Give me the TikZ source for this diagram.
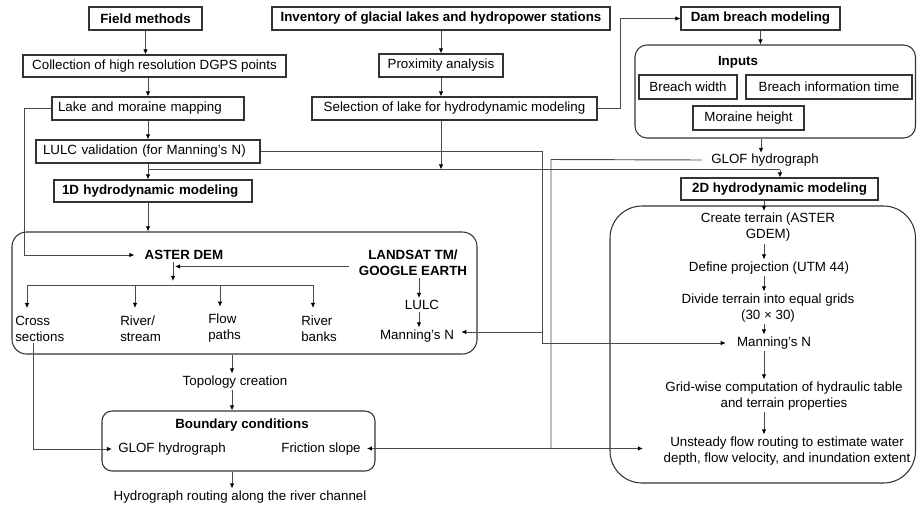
\documentclass[tikz,border=0pt]{standalone}
\usepackage{fontspec}
\setmainfont{Liberation Sans}
\usetikzlibrary{arrows.meta}
\definecolor{boxc}{HTML}{333333}
\definecolor{linec}{HTML}{4A4A4A}
\begin{document}
\begin{tikzpicture}[x=0.75pt,y=-0.75pt,
  every node/.style={font=\fontsize{10}{12}\selectfont},
  box/.style={draw=boxc, line width=0.8pt, inner sep=0pt, minimum height=17.25pt, align=center},
  cont/.style={draw=boxc, line width=0.8pt, inner sep=0pt},
  txt/.style={inner sep=1.5pt, align=center},
  bt/.style={font=\fontsize{10}{12}\selectfont\bfseries},
  ln/.style={draw=linec, line width=0.7pt},
  arr/.style={draw=linec, line width=0.7pt, -{Latex[length=3.8pt,width=3.4pt,color=black]}}]
\useasboundingbox (0,0) rectangle (917,508);

% top part
\node[box, bt, minimum width=84.75pt] (field) at (145.5,18.5) {Field methods};
\node[box, bt, minimum width=253.5pt] (inv) at (441,18.5) {Inventory of glacial lakes and hydropower stations};
\node[box, bt, minimum width=119.25pt] (dam) at (760.5,18.5) {Dam breach modeling};
\node[box, minimum width=197.25pt, minimum height=16.5pt] (dgps) at (154.5,66) {Collection of high resolution DGPS points};
\node[box, minimum width=93pt] (prox) at (441,65.5) {Proximity analysis};
\node[box, text width=135pt, inner xsep=4.5pt, align=left] (lake) at (148,108.5) {Lake and moraine mapping};
\node[box, minimum width=213.75pt] (sel) at (454.5,108.5) {Selection of lake for hydrodynamic modeling};
\node[box, text width=157.5pt, inner xsep=5.25pt, align=left] (lulcv) at (148,151.5) {LULC validation (for Manning's N)};
\node[box, bt, text width=136.5pt, inner xsep=6pt, align=left, minimum height=16.5pt] (oneD) at (153,191) {1D hydrodynamic modeling};
\node[box, bt, minimum width=147.75pt, minimum height=16.5pt] (twoD) at (779.5,189) {2D hydrodynamic modeling};

% inputs
\node[cont, minimum width=210.4pt, minimum height=69.75pt, rounded corners=9pt] (inputs) at (775.25,91.5) {};
\node[txt, bt] (inpt) at (738,62) {Inputs};
\node[box, minimum width=73.5pt, minimum height=18pt] (bw) at (688,87) {Breach width};
\node[box, minimum width=124.5pt, minimum height=18pt] (bit) at (829,87) {Breach information time};
\node[box, minimum width=83.25pt, minimum height=18pt] (mh) at (748.5,118) {Moraine height};
\node[txt] (glof1) at (765,160) {GLOF hydrograph};

% 1D container
\node[cont, minimum width=348.75pt, minimum height=91.5pt, rounded corners=11pt] (b1) at (244.5,293) {};
\node[txt, bt] (aster) at (184,255) {ASTER DEM};
\node[txt, bt] (landsat) at (413,263) {LANDSAT TM/\\GOOGLE EARTH};
\node[txt, anchor=west, align=left] (cross) at (13,328.5) {Cross\\sections};
\node[txt, anchor=west, align=left] (river) at (118,328.5) {River/\\stream};
\node[txt, anchor=west, align=left] (flow) at (206,328.5) {Flow\\paths};
\node[txt, anchor=west, align=left] (banks) at (299,328.5) {River\\banks};
\node[txt] (lulc) at (422,305) {LULC};
\node[txt] (man1) at (417,336) {Manning's N};

% below 1D
\node[txt] (topo) at (235,382) {Topology creation};
\node[cont, minimum width=204.75pt, minimum height=45pt, rounded corners=7.5pt] (bc) at (238.5,441) {};
\node[txt, bt] (bct) at (242,425) {Boundary conditions};
\node[txt] (glof2) at (172,449) {GLOF hydrograph};
\node[txt] (fric) at (321,449) {Friction slope};
\node[txt] (hrout) at (240,497) {Hydrograph routing along the river channel};

% 2D container
\node[cont, minimum width=229.1pt, minimum height=207.75pt, rounded corners=24pt] (b2) at (762.75,344.5) {};
\node[txt] (ct) at (768,227.5) {Create terrain (ASTER\\GDEM)};
\node[txt] (dp) at (769,268) {Define projection (UTM 44)};
\node[txt] (dt) at (768,308) {Divide terrain into equal grids\\(30 × 30)};
\node[txt] (man2) at (774,343) {Manning's N};
\node[txt] (gw) at (784,396) {Grid-wise computation of hydraulic table\\and terrain properties};
\node[txt] (uf) at (787,451) {Unsteady flow routing to estimate water\\depth, flow velocity, and inundation extent};

% helper coordinates
\coordinate (cDam) at (620,108.5);
\coordinate (hL) at (148,169.5);
\coordinate (hR) at (780,169.5);
\coordinate (vA) at (542,151.5);
\coordinate (vB) at (551,159.5);
\coordinate (hb) at (0,448.5);
\coordinate (cLake) at (24,108.5);
\coordinate (sp) at (173,285);
\coordinate (s1) at (27,285);
\coordinate (s2) at (135,285);
\coordinate (s3) at (220,285);
\coordinate (s4) at (313,285);
\coordinate (ax1) at (419,0);
\coordinate (ax2) at (764,0);
\coordinate (ax3) at (232,0);
\coordinate (axc) at (33,0);
\coordinate (g1) at (761,0);
\coordinate (m1in) at ([yshift=3pt]man1.east);
\coordinate (lsIn) at ([yshift=-2.6pt,xshift=-6pt]landsat.west);
\coordinate (g1out) at ([xshift=-5.25pt]glof1.west);

% left column
\draw[arr] (field.south) -- (field.south |- dgps.north);
\draw[arr] (lake.north |- dgps.south) -- (lake.north);
\draw[arr] (lake.south) -- (lulcv.north);
\draw[arr] (lulcv.south) -- (lulcv.south |- oneD.north);
\draw[arr] (lulcv.south |- oneD.south) -- (lulcv.south |- b1.north);

% middle column
\draw[arr] (inv.south) -- (prox.north);
\draw[arr] (prox.south) -- (prox.south |- sel.north);
\draw[arr] (prox.south |- sel.south) -- (prox.south |- hL);
\draw[ln] (hL) -- (hR);
\draw[arr] (hR) -- (hR |- twoD.north);
\draw[arr] (sel.east) -- (cDam) |- (dam.west);

% dam breach
\draw[arr] (dam.south) -- (dam.south |- inputs.north);
\draw[arr, shorten >=-1pt] (g1 |- inputs.south) -- (g1 |- glof1.north);

% Manning's N links
\draw[arr, shorten >=6.75pt] (lulcv.east) -- (vA) -- (vA |- man2.west) -- (man2.west);
\draw[arr, shorten >=3.75pt] (vA |- m1in) -- (m1in);

% GLOF hydrograph links
\draw[ln] (g1out) -- (vB) -- (vB |- hb);
\draw[arr, shorten >=3pt] (vB |- hb) -- (fric.east |- hb);
\draw[arr, shorten >=13.9pt] (vB |- hb) -- (uf.west |- hb);

% inside 1D
\draw[arr, shorten >=6pt] (lake.west) -- (cLake) |- (aster.west);
\draw[arr, shorten >=3pt] (aster.south -| sp) -- (sp);
\draw[arr, shorten >=1.5pt] (lsIn) -- (lsIn -| sp);
\draw[ln] (s1) -- (s4);
\draw[arr, shorten >=4pt] (s1) -- (s1 |- cross.north);
\draw[arr, shorten >=4pt] (s2) -- (s2 |- river.north);
\draw[arr, shorten >=4pt] (s3) -- (s3 |- flow.north);
\draw[arr, shorten >=4pt] (s4) -- (s4 |- banks.north);
\draw[arr] (ax1 |- landsat.south) -- (ax1 |- lulc.north);
\draw[arr] (ax1 |- lulc.south) -- (ax1 |- man1.north);

% below 1D
\draw[arr] (ax3 |- b1.south) -- (ax3 |- topo.north);
\draw[arr] (ax3 |- topo.south) -- (ax3 |- bc.north);
\draw[arr] (ax3 |- bc.south) -- (ax3 |- hrout.north);
\draw[arr, shorten >=3pt] (axc |- cross.south) -- (axc |- glof2.west) -- (glof2.west);

% inside 2D
\draw[arr] (ax2 |- twoD.south) -- (ax2 |- ct.north);
\draw[arr] (ax2 |- ct.south) -- (ax2 |- dp.north);
\draw[arr] (ax2 |- dp.south) -- (ax2 |- dt.north);
\draw[arr] (ax2 |- dt.south) -- (ax2 |- man2.north);
\draw[arr] (ax2 |- man2.south) -- (ax2 |- gw.north);
\draw[arr] (ax2 |- gw.south) -- (ax2 |- uf.north);
\end{tikzpicture}
\end{document}
